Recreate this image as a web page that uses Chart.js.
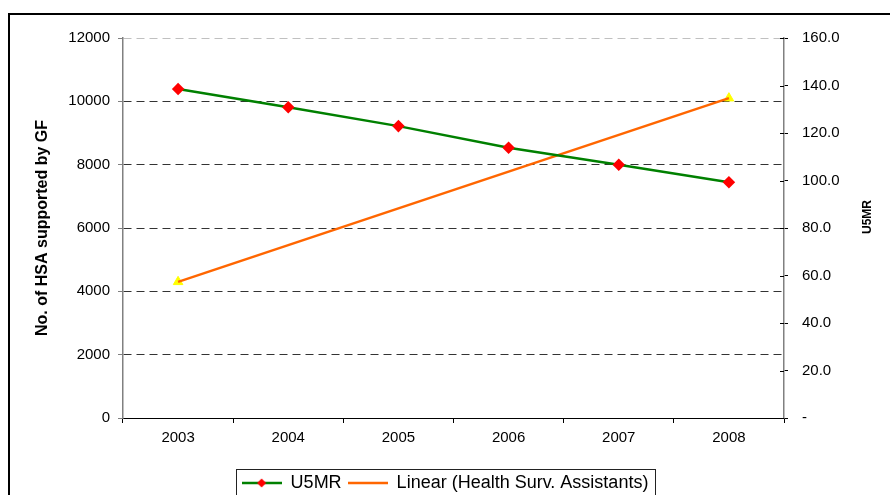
<!DOCTYPE html>
<html>
<head>
<meta charset="utf-8">
<script src="https://cdn.jsdelivr.net/npm/chart.js@4.4.1/dist/chart.umd.min.js"></script>
<style>
  html, body { margin: 0; padding: 0; background: #fff; overflow: hidden; }
  #frame { position: absolute; left: 8px; top: 13px; width: 900px; height: 500px; border: 2px solid #000; box-sizing: border-box; }
  #chart { position: absolute; left: 0; top: 0; }
</style>
</head>
<body>
<div id="frame"></div>
<canvas id="chart" width="890" height="495"></canvas>
<script>
// data
const years = ['2003', '2004', '2005', '2006', '2007', '2008'];
const u5mr = [138.5, 130.8, 122.9, 113.8, 106.6, 99.3];
// HSA markers only at the end years, trend line runs between them
const hsa = [4300, null, null, null, null, 10100];
const hsaTrend = [4300, null, null, null, null, 10100];
const leftTicks = [0, 2000, 4000, 6000, 8000, 10000, 12000];
const rightTicks = [0, 20, 40, 60, 80, 100, 120, 140, 160];

Chart.defaults.font.family = '"Liberation Sans", Arial, sans-serif';
Chart.defaults.color = '#000';

// legend icons: line with optional marker
function legendIcon(color, marker) {
  const c = document.createElement('canvas');
  c.width = 40; c.height = 12;
  const g = c.getContext('2d');
  g.strokeStyle = color; g.lineWidth = 2.5;
  g.beginPath(); g.moveTo(0, 6); g.lineTo(40, 6); g.stroke();
  if (marker) {
    g.fillStyle = marker;
    g.beginPath(); g.moveTo(20, 1.5); g.lineTo(24.5, 6); g.lineTo(20, 10.5); g.lineTo(15.5, 6); g.closePath(); g.fill();
  }
  return c;
}
const u5mrIcon = legendIcon('#008000', '#ff0000');
const trendIcon = legendIcon('#ff6600', null);

// box around the legend, inner ticks on right axis, right axis title
const extras = {
  id: 'extras',
  afterDraw(chart) {
    const ctx = chart.ctx;
    const lg = chart.legend;
    if (lg && lg.legendHitBoxes.length) {
      const boxes = lg.legendHitBoxes;
      const x0 = Math.min(...boxes.map(b => b.left)) - 6;
      const x1 = Math.max(...boxes.map(b => b.left + b.width)) + 6;
      const y0 = Math.min(...boxes.map(b => b.top)) - 5;
      ctx.save();
      ctx.strokeStyle = '#222'; ctx.lineWidth = 1;
      ctx.strokeRect(Math.round(x0) + 0.5, Math.round(y0) + 0.5, Math.round(x1 - x0), 60);
      ctx.restore();
    }
    const y1 = chart.scales.y1;
    ctx.save();
    ctx.strokeStyle = '#000'; ctx.lineWidth = 1;
    y1.ticks.forEach(t => {
      const py = Math.round(y1.getPixelForValue(t.value)) + 0.5;
      ctx.beginPath(); ctx.moveTo(y1.left - 4, py); ctx.lineTo(y1.left, py); ctx.stroke();
    });
    ctx.translate(868, 217);
    ctx.rotate(-Math.PI / 2);
    ctx.font = 'bold 12px "Liberation Sans", Arial, sans-serif';
    ctx.textAlign = 'center'; ctx.textBaseline = 'middle';
    ctx.fillStyle = '#000';
    ctx.fillText('U5MR', 0, 0);
    ctx.restore();
  }
};

new Chart(document.getElementById('chart'), {
  type: 'line',
  data: {
    labels: years,
    datasets: [
      {
        label: 'U5MR',
        data: u5mr,
        yAxisID: 'y1',
        borderColor: '#008000',
        backgroundColor: '#ff0000',
        borderWidth: 2.5,
        pointStyle: 'rectRot',
        pointRadius: 4.5,
        pointBackgroundColor: '#ff0000',
        pointBorderColor: '#ff0000',
        tension: 0
      },
      {
        label: 'Linear (Health Surv. Assistants)',
        data: hsaTrend,
        yAxisID: 'y',
        borderColor: '#ff6600',
        borderWidth: 2.5,
        pointRadius: 0,
        spanGaps: true,
        tension: 0
      },
      {
        label: 'Health Surv. Assistants',
        data: hsa,
        yAxisID: 'y',
        showLine: false,
        pointStyle: 'triangle',
        pointRadius: 5.5,
        pointBackgroundColor: '#ffff00',
        pointBorderColor: '#ffff00',
        borderColor: '#ffff00'
      }
    ]
  },
  options: {
    responsive: false,
    animation: false,
    devicePixelRatio: 1,
    layout: { padding: { left: 0, right: 0, top: 38, bottom: -7 } },
    plugins: {
      tooltip: { enabled: false },
      legend: {
        position: 'bottom',
        labels: {
          usePointStyle: true,
          pointStyleWidth: 40,
          padding: 6,
          font: { size: 18 },
          color: '#000',
          generateLabels: chart => [
            { text: 'U5MR', pointStyle: u5mrIcon, datasetIndex: 0, fillStyle: '#fff', strokeStyle: '#fff', lineWidth: 0, fontColor: '#000' },
            { text: 'Linear (Health Surv. Assistants)', pointStyle: trendIcon, datasetIndex: 1, fillStyle: '#fff', strokeStyle: '#fff', lineWidth: 0, fontColor: '#000' }
          ]
        }
      }
    },
    scales: {
      x: {
        offset: true,
        grid: { offset: true, drawOnChartArea: false, tickLength: 5, tickColor: '#000' },
        border: { color: '#000' },
        ticks: { font: { size: 15 }, color: '#000', padding: 6 },
        afterFit: s => { s.height = 50; }
      },
      y: {
        position: 'left',
        min: 0, max: 12000,
        afterBuildTicks: s => { s.ticks = leftTicks.map(v => ({ value: v })); },
        grid: {
          color: c => c.tick && c.tick.value === 12000 ? '#c0c0c0' : (c.tick && c.tick.value === 0 ? 'rgba(0,0,0,0)' : '#333'),
          tickBorderDash: [],
          tickColor: '#808080',
          tickLength: 5
        },
        border: { color: '#808080', width: 1.5, dash: [8, 5] },
        ticks: { font: { size: 15 }, color: '#000', padding: 8, callback: v => String(v) },
        title: {
          display: true,
          text: 'No. of HSA supported by GF',
          font: { size: 16, weight: 'bold' },
          color: '#000',
          padding: { top: 33, bottom: 0 }
        },
        afterFit: s => { s.width = 123; }
      },
      y1: {
        position: 'right',
        min: 0, max: 160,
        afterBuildTicks: s => { s.ticks = rightTicks.map(v => ({ value: v })); },
        grid: { drawOnChartArea: false, tickColor: '#000', tickLength: 4 },
        border: { color: '#808080', width: 1.5 },
        ticks: {
          font: { size: 15 }, color: '#000', padding: 14,
          callback: v => v === 0 ? '-' : v.toFixed(1)
        },
        afterFit: s => { s.width = 106; }
      }
    }
  },
  plugins: [extras]
});
</script>
</body>
</html>
